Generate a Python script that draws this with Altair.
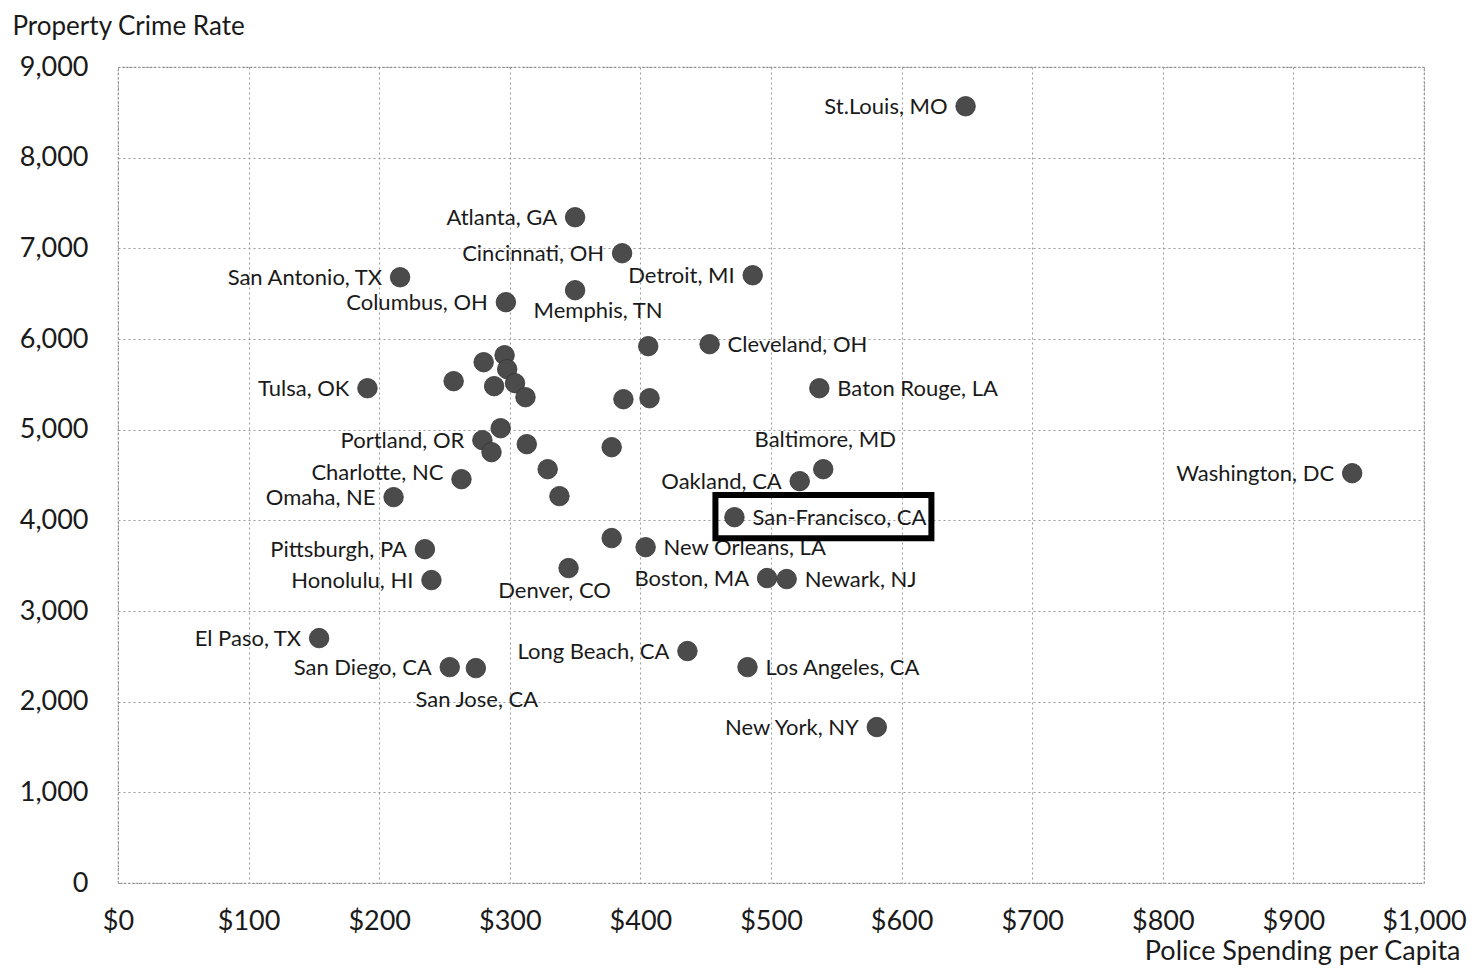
import altair as alt
import pandas as pd

# ---- data ----
cities = [
    "St.Louis, MO", "Atlanta, GA", "Cincinnati, OH", "Detroit, MI", "San Antonio, TX",
    "Columbus, OH", "Memphis, TN", "Cleveland, OH", "", "Baton Rouge, LA",
    "Tulsa, OK", "", "", "", "", "", "", "", "", "",
    "", "Portland, OR", "", "", "", "Charlotte, NC", "", "", "Omaha, NE", "Oakland, CA",
    "Baltimore, MD", "Washington, DC", "San-Francisco, CA", "Pittsburgh, PA", "", "New Orleans, LA",
    "Denver, CO", "Honolulu, HI", "Boston, MA", "Newark, NJ", "El Paso, TX",
    "San Diego, CA", "San Jose, CA", "Long Beach, CA", "Los Angeles, CA", "New York, NY",
]
spending = [
    649, 350, 386, 486, 216,
    297, 350, 453, 406, 537,
    191, 257, 280, 296, 298, 288, 304, 312, 387, 407,
    293, 279, 286, 313, 378, 263, 329, 338, 211, 522,
    540, 945, 472, 235, 378, 404,
    345, 240, 497, 512, 154,
    254, 274, 436, 482, 581,
]
crime = [
    8567, 7343, 6946, 6703, 6681,
    6406, 6538, 5943, 5921, 5457,
    5457, 5535, 5744, 5821, 5667, 5480, 5513, 5358, 5336, 5347,
    5016, 4884, 4752, 4840, 4807, 4454, 4564, 4267, 4256, 4432,
    4564, 4520, 4035, 3682, 3804, 3704,
    3473, 3341, 3363, 3352, 2701,
    2381, 2370, 2558, 2381, 1720,
]
# label side relative to its dot
label_side = [
    "left", "left", "left", "left", "left",
    "left", "below-right", "right", "", "right",
    "left", "", "", "", "", "", "", "", "", "",
    "", "left", "", "", "", "left-up", "", "", "left", "left",
    "above", "left", "right", "left", "", "right",
    "below-left", "left", "left", "right", "left",
    "left", "below", "left", "right", "left",
]
highlight = "San-Francisco, CA"

df = pd.DataFrame({"city": cities, "spending": spending, "crime": crime, "side": label_side})

FONT = "Lato"
TXT = "#1a1a1a"

x_enc = alt.X(
    "spending:Q",
    scale=alt.Scale(domain=[0, 1000], nice=False, zero=True),
    axis=alt.Axis(
        values=list(range(0, 1001, 100)), format="$,d", title="Police Spending per Capita",
        titleAngle=0, titleAlign="right", titleBaseline="middle", titleX=1342, titleY=68,
        titleFont=FONT, titleFontSize=27, titleFontWeight="normal", titleColor=TXT,
        labelFont=FONT, labelFontSize=27, labelColor=TXT, labelPadding=25, labelFlush=False,
        labelOverlap=False,
        ticks=False, domain=False, grid=True, gridColor="#9a9a9a",
        gridDash=[2, 3], gridWidth=1,
    ),
)
y_enc = alt.Y(
    "crime:Q",
    scale=alt.Scale(domain=[0, 9000], nice=False),
    axis=alt.Axis(
        values=list(range(0, 9001, 1000)), format=",d", title="Property Crime Rate",
        titleAngle=0, titleAlign="left", titleBaseline="middle", titleX=-106, titleY=-41,
        titleFont=FONT, titleFontSize=26, titleFontWeight="normal", titleColor=TXT,
        labelFont=FONT, labelFontSize=27, labelColor=TXT, labelPadding=30, labelFlush=False,
        labelOverlap=False,
        ticks=False, domain=False, grid=True, gridColor="#9a9a9a",
        gridDash=[2, 3], gridWidth=1,
    ),
)

base = alt.Chart(df)

points = base.mark_point(filled=True, size=380, color="#4b4b4b", opacity=1, stroke="#333333", strokeWidth=0.8).encode(
    x=x_enc, y=y_enc
)

def labels(side, align, dx, dy):
    return base.transform_filter(alt.datum.side == side).mark_text(
        font=FONT, fontSize=22, color=TXT, align=align, baseline="middle", dx=dx, dy=dy
    ).encode(x="spending:Q", y="crime:Q", text="city:N")

layers = [
    points,
    labels("left", "right", -18, 1),
    labels("left-up", "right", -18, -6),
    labels("right", "left", 18, 1),
    labels("below-right", "center", 23, 21),
    labels("below-left", "center", -14, 23),
    labels("below", "center", 1, 32),
    labels("above", "center", 2, -29),
]

# black box around the highlighted city: a custom outline symbol anchored at its dot
box = base.transform_filter(alt.datum.city == highlight).mark_point(
    shape="M -0.0905 -0.105 L 0.938 -0.105 L 0.938 0.1 L -0.0905 0.1 Z",
    size=176400, filled=False, stroke="#000000", strokeWidth=6, opacity=1,
).encode(x="spending:Q", y="crime:Q")
layers.append(box)

chart = alt.layer(*layers).properties(
    width=1306, height=816,
    autosize=alt.AutoSizeParams(type="none"),
    padding={"left": 110, "top": 59, "right": 44, "bottom": 83},
    background="white",
).configure_view(stroke="#8a8a8a", strokeDash=[2, 2], strokeWidth=1.2)

chart.save("out.html", embed_options={"renderer": "svg", "actions": False})
